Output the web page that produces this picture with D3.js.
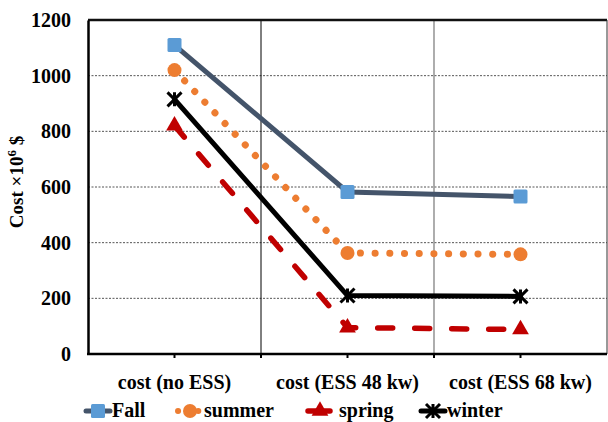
<!DOCTYPE html>
<html>
<head>
<meta charset="utf-8">
<script src="https://cdn.jsdelivr.net/npm/d3@7"></script>
<style>
  html, body { margin: 0; padding: 0; background: #fff; }
  svg { display: block; }
</style>
</head>
<body>
<svg id="chart" width="608" height="422"></svg>
<script>
// Cost scenarios along the x axis
const categories = ["cost (no ESS)", "cost (ESS 48 kw)", "cost (ESS 68 kw)"];

// Seasonal costs (×10^6 $)
const fallValues   = [1110, 582, 566];
const summerValues = [1020, 363, 358];
const springValues = [820, 95, 88];
const winterValues = [915, 210, 207];

const seriesNames = ["Fall", "summer", "spring", "winter"];
const yTicks = [0, 200, 400, 600, 800, 1000, 1200];

const FONT = "'Liberation Serif', 'Times New Roman', 'DejaVu Serif', serif";

const series = [
  { name: seriesNames[0], values: fallValues,   color: "#44546A", mark: "#5B9BD5", dash: null,     width: 5,   marker: "square" },
  { name: seriesNames[1], values: summerValues, color: "#ED7D31", mark: "#ED7D31", dash: "0.1 14.6", width: 7, marker: "circle" },
  { name: seriesNames[2], values: springValues, color: "#C00000", mark: "#C00000", dash: "15 22",  width: 5.5, marker: "triangle" },
  { name: seriesNames[3], values: winterValues, color: "#000000", mark: "#000000", dash: null,     width: 5,   marker: "star" }
];

const svg = d3.select("#chart");
const plotL = 88, plotR = 607, plotT = 20, plotB = 354;

const x = d3.scaleBand().domain(categories).range([plotL, plotR]);
const y = d3.scaleLinear().domain([0, 1200]).range([plotB, plotT]);
const cx = c => x(c) + x.bandwidth() / 2;

function styleText(sel, size) {
  sel.style("font-family", FONT).style("font-weight", "bold")
     .style("font-size", size + "px").style("fill", "#000");
}

// Horizontal dashed gridlines
svg.append("g").selectAll("line")
  .data(yTicks.filter(t => t > 0 && t < 1200))
  .join("line")
  .attr("x1", plotL).attr("x2", plotR)
  .attr("y1", d => y(d)).attr("y2", d => y(d))
  .attr("stroke", "#555").attr("stroke-width", 1).attr("stroke-dasharray", "2 1.5");

// Vertical separators between categories, with small ticks below the axis
[[categories[1], "#000", 1], [categories[2], "#777", 1.2]].forEach(([c, col, w]) => {
  svg.append("line")
    .attr("x1", x(c)).attr("x2", x(c))
    .attr("y1", plotT).attr("y2", plotB)
    .attr("stroke", col).attr("stroke-width", w);
  svg.append("line")
    .attr("x1", x(c)).attr("x2", x(c))
    .attr("y1", plotB).attr("y2", plotB + 4)
    .attr("stroke", "#000").attr("stroke-width", 2);
});

// Frame: top and right
svg.append("line").attr("x1", plotL).attr("x2", plotR).attr("y1", plotT).attr("y2", plotT)
  .attr("stroke", "#111").attr("stroke-width", 2.5);
svg.append("line").attr("x1", plotR).attr("x2", plotR).attr("y1", plotT).attr("y2", plotB)
  .attr("stroke", "#333").attr("stroke-width", 1);

// Y axis
const yAxis = svg.append("g").attr("transform", `translate(${plotL},0)`)
  .call(d3.axisLeft(y).tickValues(yTicks).tickFormat(d3.format("d")).tickSize(0).tickPadding(17));
yAxis.select(".domain").attr("stroke", "#000").attr("stroke-width", 2.5);
styleText(yAxis.selectAll("text"), 20);

// X axis
const xAxis = svg.append("g").attr("transform", `translate(0,${plotB})`)
  .call(d3.axisBottom(x).tickSize(4).tickPadding(17));
xAxis.select(".domain").attr("stroke", "#000").attr("stroke-width", 2.5)
  .attr("d", `M${plotL - 1},0H${plotR}`);
xAxis.selectAll(".tick line").attr("stroke", "#000").attr("stroke-width", 2);
styleText(xAxis.selectAll("text"), 20);

// Y axis title
const yTitle = svg.append("text")
  .attr("transform", "translate(23,182) rotate(-90)")
  .attr("text-anchor", "middle");
styleText(yTitle, 19);
yTitle.append("tspan").text("Cost ×10");
yTitle.append("tspan").text("6").attr("dy", -7).style("font-size", "13px");
yTitle.append("tspan").text(" $").attr("dy", 7);

// Marker drawing
function drawMarker(g, s, px, py, size) {
  if (s.marker === "square") {
    g.append("rect").attr("x", px - size / 2).attr("y", py - size / 2)
      .attr("width", size).attr("height", size).attr("rx", 1.5).attr("fill", s.mark);
  } else if (s.marker === "circle") {
    g.append("circle").attr("cx", px).attr("cy", py).attr("r", size / 2).attr("fill", s.mark);
  } else if (s.marker === "triangle") {
    g.append("path").attr("d", d3.symbol(d3.symbolTriangle, size * size * 0.62)())
      .attr("transform", `translate(${px},${py})`).attr("fill", s.mark);
  } else if (s.marker === "star") {
    const h = size / 2;
    g.append("path")
      .attr("d", `M${px - h},${py - h}L${px + h},${py + h}M${px - h},${py + h}L${px + h},${py - h}M${px},${py - h}L${px},${py + h}`)
      .attr("stroke", s.mark).attr("stroke-width", 3).attr("fill", "none");
  }
}

// Series lines and markers
const line = d3.line().x((d, i) => cx(categories[i])).y(d => y(d));
series.forEach(s => {
  const g = svg.append("g");
  g.append("path").datum(s.values)
    .attr("d", line)
    .attr("fill", "none")
    .attr("stroke", s.color)
    .attr("stroke-width", s.width)
    .attr("stroke-linecap", "round")
    .attr("stroke-dasharray", s.dash);
  s.values.forEach((v, i) => drawMarker(g, s, cx(categories[i]), y(v), 14));
});

// Legend
const legendX = [84, 176, 306, 419];
const legendY = 411;
series.forEach((s, i) => {
  const g = svg.append("g");
  const x0 = legendX[i], x1 = x0 + 28;
  g.append("line").attr("x1", x0 + 2).attr("x2", x1 - 2)
    .attr("y1", legendY).attr("y2", legendY)
    .attr("stroke", s.color).attr("stroke-width", s.marker === "circle" ? 6 : s.width)
    .attr("stroke-linecap", "round")
    .attr("stroke-dasharray", s.dash ? (s.marker === "circle" ? "0.1 10" : "8 6") : null);
  drawMarker(g, s, (x0 + x1) / 2, legendY, 14);
  const t = g.append("text").attr("x", x1 + (s.marker === "triangle" ? 5 : 0)).attr("y", legendY + 6).text(s.name);
  styleText(t, 20);
});
</script>
</body>
</html>
